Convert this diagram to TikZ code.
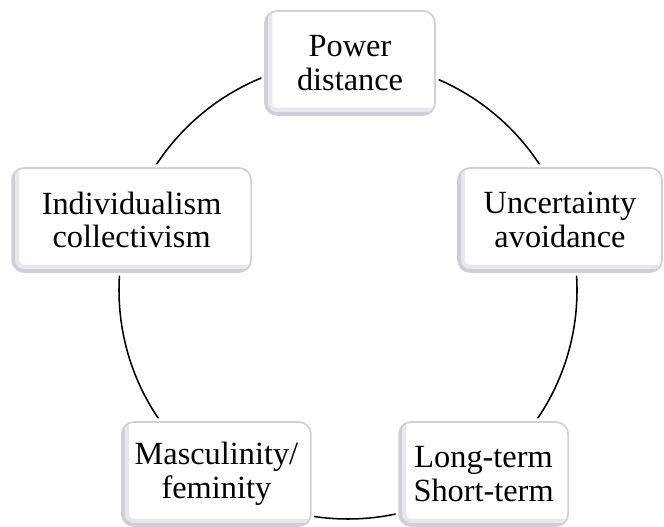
\documentclass[tikz,border=0pt]{standalone}
\usepackage{fontspec}
\setmainfont{Liberation Serif}
\usepackage{tikz}
\usetikzlibrary{shapes, positioning}
\definecolor{hfedge}{RGB}{208,208,214}
\definecolor{hfbevel}{RGB}{176,176,196}

\tikzset{
  factor/.style={draw=hfedge, line width=1.2pt, fill=white, rounded corners=0.3cm,
    align=center, minimum height=2.6cm, inner sep=2pt,
    preaction={draw=white, line width=5pt},
    path picture={
      \draw[hfbevel, line width=10pt, opacity=0.3]
        (path picture bounding box.north west) -- (path picture bounding box.south west)
        -- (path picture bounding box.south east);
      \draw[hfbevel, line width=4pt, opacity=0.45]
        (path picture bounding box.north west) -- (path picture bounding box.south west)
        -- (path picture bounding box.south east);
    }}
}

\begin{document}
\begin{tikzpicture}[every node/.style={font=\fontsize{23}{23.8}\selectfont}]
  \useasboundingbox (0,0) rectangle (16.6,13.175);
  % the ring behind the boxes
  \coordinate (hub) at (8.7,5.925);
  \draw[line width=1.1pt] (hub) circle (5.725);

  \node[factor, minimum width=4.25cm]  (power)  at (8.75,11.6) {Power\\distance};
  \node[factor, minimum width=5.975cm] (indiv)  at (3.29,7.675) {Individualism\\collectivism};
  \node[factor, minimum width=5.1cm]   (uncert) at (14.0,7.675) {Uncertainty\\avoidance};
  \node[factor, minimum width=4.725cm] (masc)   at (5.41,1.325) {Masculinity/\\feminity};
  \node[factor, minimum width=4.225cm] (longt)  at (12.09,1.325) {Long-term\\Short-term};
\end{tikzpicture}
\end{document}
